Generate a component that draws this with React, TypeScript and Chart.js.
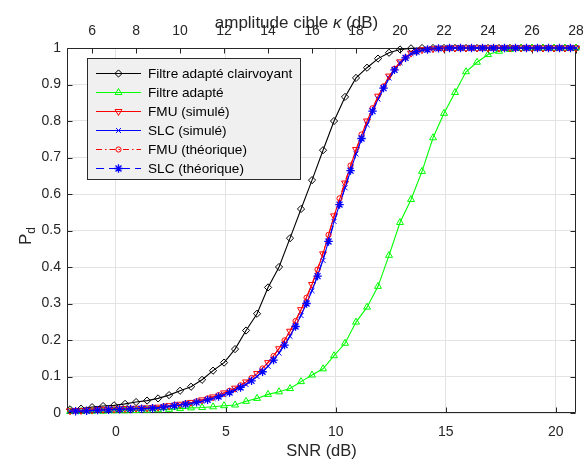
import React, { useEffect, useRef } from 'react';
import { Chart, registerables } from 'chart.js';
import { drawPoint } from 'chart.js/helpers';

Chart.register(...registerables);

// SNR (dB) of the simulated points (kappa = 5 : 0.5 : 28 dB)
const snrSim = [
  -2.08, -1.58, -1.08, -0.58, -0.08, 0.42, 0.92, 1.42, 1.92, 2.42, 2.92, 3.42, 3.92, 4.42, 4.92, 5.42,
  5.92, 6.42, 6.92, 7.42, 7.92, 8.42, 8.92, 9.42, 9.92, 10.42, 10.92, 11.42, 11.92, 12.42, 12.92, 13.42,
  13.92, 14.42, 14.92, 15.42, 15.92, 16.42, 16.92, 17.42, 17.92, 18.42, 18.92, 19.42, 19.92, 20.42, 20.92,
];
// SNR (dB) of the theoretical points
const snrTheo = [
  -1.83, -1.33, -0.83, -0.33, 0.17, 0.67, 1.17, 1.67, 2.17, 2.67, 3.17, 3.67, 4.17, 4.67, 5.17, 5.67,
  6.17, 6.67, 7.17, 7.67, 8.17, 8.67, 9.17, 9.67, 10.17, 10.67, 11.17, 11.67, 12.17, 12.67, 13.17, 13.67,
  14.17, 14.67, 15.17, 15.67, 16.17, 16.67, 17.17, 17.67, 18.17, 18.67, 19.17, 19.67, 20.17, 20.67,
];

const pdClairvoyant = [
  0.010, 0.012, 0.016, 0.019, 0.021, 0.025, 0.030, 0.034, 0.040, 0.049, 0.061, 0.072, 0.091, 0.116, 0.138, 0.175,
  0.226, 0.272, 0.344, 0.400, 0.479, 0.559, 0.638, 0.720, 0.800, 0.866, 0.918, 0.946, 0.971, 0.987, 0.996, 0.999,
  1, 1, 1, 1, 1, 1, 1, 1, 1, 1, 1, 1, 1, 1, 1,
];
const pdAdapte = [
  0.004, 0.004, 0.005, 0.005, 0.006, 0.006, 0.007, 0.008, 0.009, 0.010, 0.012, 0.014, 0.015, 0.017, 0.020, 0.022,
  0.032, 0.040, 0.051, 0.058, 0.067, 0.086, 0.104, 0.121, 0.157, 0.191, 0.249, 0.290, 0.347, 0.432, 0.522, 0.585,
  0.662, 0.754, 0.821, 0.878, 0.935, 0.961, 0.982, 0.991, 0.996, 0.999, 1, 1, 1, 1, 1,
];
const pdFmuSim = [
  0.006, 0.007, 0.008, 0.010, 0.011, 0.012, 0.013, 0.014, 0.016, 0.020, 0.024, 0.029, 0.036, 0.044, 0.055, 0.068,
  0.085, 0.108, 0.138, 0.176, 0.224, 0.283, 0.352, 0.436, 0.540, 0.630, 0.722, 0.800, 0.868, 0.923, 0.962, 0.986,
  0.995, 0.998, 0.999, 1, 1, 1, 1, 1, 1, 1, 1, 1, 1, 1, 1,
];
const pdSlcSim = [
  0.005, 0.006, 0.007, 0.009, 0.010, 0.011, 0.012, 0.013, 0.014, 0.018, 0.022, 0.026, 0.032, 0.040, 0.050, 0.063,
  0.078, 0.100, 0.128, 0.164, 0.210, 0.267, 0.335, 0.418, 0.525, 0.617, 0.710, 0.790, 0.860, 0.918, 0.960, 0.985,
  0.994, 0.998, 0.999, 1, 1, 1, 1, 1, 1, 1, 1, 1, 1, 1, 1,
];
const pdFmuTheo = [
  0.006, 0.007, 0.009, 0.010, 0.011, 0.012, 0.013, 0.015, 0.018, 0.022, 0.026, 0.032, 0.040, 0.049, 0.061, 0.076,
  0.096, 0.122, 0.156, 0.199, 0.252, 0.316, 0.393, 0.488, 0.588, 0.678, 0.763, 0.835, 0.895, 0.943, 0.974, 0.990,
  0.996, 0.999, 1, 1, 1, 1, 1, 1, 1, 1, 1, 1, 1, 1,
];
const pdSlcTheo = [
  0.005, 0.006, 0.008, 0.009, 0.010, 0.011, 0.012, 0.013, 0.016, 0.020, 0.024, 0.029, 0.036, 0.045, 0.056, 0.070,
  0.088, 0.113, 0.145, 0.186, 0.237, 0.300, 0.375, 0.470, 0.571, 0.664, 0.752, 0.827, 0.890, 0.940, 0.973, 0.990,
  0.996, 0.999, 1, 1, 1, 1, 1, 1, 1, 1, 1, 1, 1, 1,
];

const seriesLabels = [
  'Filtre adapté clairvoyant',
  'Filtre adapté',
  'FMU (simulé)',
  'SLC (simulé)',
  'FMU (théorique)',
  'SLC (théorique)',
];

const snrTicks = [0, 5, 10, 15, 20];
const kappaTicks = [6, 8, 10, 12, 14, 16, 18, 20, 22, 24, 26, 28];
const pdTicks = [0, 0.1, 0.2, 0.3, 0.4, 0.5, 0.6, 0.7, 0.8, 0.9, 1];
const tickLabelsPd = ['0', '0.1', '0.2', '0.3', '0.4', '0.5', '0.6', '0.7', '0.8', '0.9', '1'];

const SNR_MIN = -2.22;
const SNR_MAX = 20.92;
const KAPPA_OFFSET = 7.08;

const FONT = '"Liberation Sans", Arial, Helvetica, sans-serif';
const AXIS_COLOR = '#262626';

const pts = (xs: number[], ys: number[]) => xs.map((x, i) => ({ x, y: ys[i] }));

const noPad = (s: any) => {
  s.paddingLeft = 0;
  s.paddingRight = 0;
  s.paddingTop = 0;
  s.paddingBottom = 0;
};

const overlay = {
  id: 'overlay',
  beforeDatasetsDraw(chart: any) {
    const { ctx, chartArea: a, scales } = chart;
    ctx.save();
    ctx.strokeStyle = AXIS_COLOR;
    ctx.lineWidth = 1;
    ctx.setLineDash([]);
    const L = Math.round(a.left) + 0.5;
    const R = Math.round(a.right) - 0.5;
    const T = Math.round(a.top) + 0.5;
    const B = Math.round(a.bottom) - 0.5;
    ctx.beginPath();
    ctx.rect(L, T, R - L, B - T);
    ctx.stroke();
    const tl = 5;
    ctx.beginPath();
    snrTicks.forEach((v) => {
      const p = Math.round(scales.x.getPixelForValue(v)) + 0.5;
      ctx.moveTo(p, B);
      ctx.lineTo(p, B - tl);
    });
    kappaTicks.forEach((v) => {
      const p = Math.round(scales.xTop.getPixelForValue(v)) + 0.5;
      ctx.moveTo(p, T);
      ctx.lineTo(p, T + tl);
    });
    pdTicks.forEach((v) => {
      const p = Math.round(scales.y.getPixelForValue(v)) + 0.5;
      ctx.moveTo(L, p);
      ctx.lineTo(L + tl, p);
      ctx.moveTo(R, p);
      ctx.lineTo(R - tl, p);
    });
    ctx.stroke();
    ctx.restore();
  },
  afterDraw(chart: any) {
    const { ctx, chartArea: a } = chart;
    ctx.save();
    ctx.fillStyle = AXIS_COLOR;
    ctx.textBaseline = 'alphabetic';

    // top title with italic kappa
    const f = `17px ${FONT}`;
    const fi = `italic 17px ${FONT}`;
    const p1 = 'amplitude cible ';
    const p2 = 'κ';
    const p3 = ' (dB)';
    ctx.font = f;
    const w1 = ctx.measureText(p1).width;
    const w3 = ctx.measureText(p3).width;
    ctx.font = fi;
    const w2 = ctx.measureText(p2).width;
    const total = w1 + w2 + w3;
    let tx = 296.5 - total / 2;
    const ty = 28;
    ctx.textAlign = 'left';
    ctx.font = f;
    ctx.fillText(p1, tx, ty);
    tx += w1;
    ctx.font = fi;
    ctx.fillText(p2, tx, ty);
    tx += w2;
    ctx.font = f;
    ctx.fillText(p3, tx, ty);

    // bottom label
    ctx.textAlign = 'center';
    ctx.font = `16.5px ${FONT}`;
    ctx.fillText('SNR (dB)', (a.left + a.right) / 2, 456);

    // y label P_d
    ctx.save();
    ctx.translate(31, 236);
    ctx.rotate(-Math.PI / 2);
    ctx.textAlign = 'left';
    ctx.font = `17px ${FONT}`;
    const wp = ctx.measureText('P').width;
    ctx.font = `12px ${FONT}`;
    const wd = ctx.measureText('d').width;
    const sx = -(wp + wd) / 2;
    ctx.font = `17px ${FONT}`;
    ctx.fillText('P', sx, 0);
    ctx.font = `12px ${FONT}`;
    ctx.fillText('d', sx + wp, 4);
    ctx.restore();

    // legend
    const bx = 87.5, by = 58.5, bw = 213, bh = 121;
    ctx.fillStyle = '#f0f0f0';
    ctx.fillRect(bx, by, bw, bh);
    ctx.strokeStyle = '#2b2b2b';
    ctx.lineWidth = 1;
    ctx.setLineDash([]);
    ctx.strokeRect(bx, by, bw, bh);
    const metas = chart.data.datasets;
    seriesLabels.forEach((lab, i) => {
      const ds = metas[i];
      const y = Math.round(72.5 + i * 19.1) + 0.5;
      ctx.save();
      ctx.strokeStyle = ds.borderColor;
      ctx.lineWidth = 1.2;
      ctx.setLineDash(ds.borderDash || []);
      ctx.beginPath();
      ctx.moveTo(96, y);
      ctx.lineTo(141, y);
      ctx.stroke();
      ctx.setLineDash([]);
      ctx.fillStyle = 'rgba(0,0,0,0)';
      ctx.strokeStyle = ds.borderColor;
      ctx.lineWidth = ds.pointBorderWidth ?? 1;
      drawPoint(ctx, {
        pointStyle: ds.pointStyle,
        radius: ds.pointRadius,
        rotation: ds.pointRotation || 0,
        borderWidth: ds.pointBorderWidth ?? 1,
      } as any, 118.5, y);
      ctx.restore();
      ctx.fillStyle = '#000';
      ctx.textAlign = 'left';
      ctx.textBaseline = 'middle';
      ctx.font = `13.6px ${FONT}`;
      ctx.fillText(lab, 148, y + 0.5);
    });
    ctx.restore();
  },
};

export default function App() {
  const ref = useRef<HTMLCanvasElement | null>(null);
  useEffect(() => {
    document.body.style.margin = '0';
    const canvas = ref.current!;
    const common = {
      backgroundColor: 'rgba(0,0,0,0)',
      pointBackgroundColor: 'rgba(0,0,0,0)',
      borderWidth: 1.1,
      pointBorderWidth: 1,
      clip: false as any,
      xAxisID: 'x',
      yAxisID: 'y',
    };
    const chart = new Chart(canvas, {
      type: 'line',
      data: {
        datasets: [
          {
            ...common,
            label: seriesLabels[0],
            data: pts(snrSim, pdClairvoyant),
            borderColor: '#000000',
            pointBorderColor: '#000000',
            pointStyle: 'rectRot',
            pointRadius: 3.6,
            order: 6,
          },
          {
            ...common,
            label: seriesLabels[1],
            data: pts(snrSim, pdAdapte),
            borderColor: '#00ff00',
            pointBorderColor: '#00ff00',
            pointStyle: 'triangle',
            pointRadius: 4,
            order: 5,
          },
          {
            ...common,
            label: seriesLabels[2],
            data: pts(snrSim, pdFmuSim),
            borderColor: '#ff0000',
            pointBorderColor: '#ff0000',
            pointStyle: 'triangle',
            pointRotation: 180,
            pointRadius: 4,
            order: 4,
          },
          {
            ...common,
            label: seriesLabels[3],
            data: pts(snrSim, pdSlcSim),
            borderColor: '#0000ff',
            pointBorderColor: '#0000ff',
            pointStyle: 'crossRot',
            pointRadius: 3.5,
            order: 3,
          },
          {
            ...common,
            label: seriesLabels[4],
            data: pts(snrTheo, pdFmuTheo),
            borderColor: '#ff0000',
            pointBorderColor: '#ff0000',
            borderDash: [6, 3, 1.5, 3],
            pointStyle: 'circle',
            pointRadius: 2.6,
            order: 2,
          },
          {
            ...common,
            label: seriesLabels[5],
            data: pts(snrTheo, pdSlcTheo),
            borderColor: '#0000ff',
            pointBorderColor: '#0000ff',
            borderDash: [8, 5],
            pointStyle: 'star',
            pointRadius: 4.2,
            pointBorderWidth: 1.3,
            order: 1,
          },
        ] as any,
      },
      options: {
        responsive: false,
        animation: false,
        events: [],
        layout: { padding: { left: 0, right: 7, top: 0, bottom: 0 } },
        plugins: { legend: { display: false }, tooltip: { enabled: false }, title: { display: false } },
        elements: { line: { tension: 0 } },
        scales: {
          x: {
            type: 'linear',
            position: 'bottom',
            min: SNR_MIN,
            max: SNR_MAX,
            afterBuildTicks: (s: any) => { s.ticks = snrTicks.map((v) => ({ value: v })); },
            afterFit: (s: any) => { s.height = 46; noPad(s); },
            grid: { color: '#e3e3e3', lineWidth: 1, drawTicks: false },
            border: { display: false },
            ticks: {
              padding: 11,
              maxRotation: 0,
              color: AXIS_COLOR,
              font: { family: FONT, size: 14 },
              callback: (v: any) => String(v),
            },
          },
          xTop: {
            type: 'linear',
            position: 'top',
            min: SNR_MIN + KAPPA_OFFSET,
            max: SNR_MAX + KAPPA_OFFSET,
            afterBuildTicks: (s: any) => { s.ticks = kappaTicks.map((v) => ({ value: v })); },
            afterFit: (s: any) => { s.height = 48; noPad(s); },
            grid: { display: false, drawTicks: false },
            border: { display: false },
            ticks: {
              padding: 8,
              maxRotation: 0,
              color: AXIS_COLOR,
              font: { family: FONT, size: 14 },
              callback: (v: any) => String(v),
            },
          },
          y: {
            type: 'linear',
            position: 'left',
            min: 0,
            max: 1,
            afterBuildTicks: (s: any) => { s.ticks = pdTicks.map((v) => ({ value: v })); },
            afterFit: (s: any) => { s.width = 67; noPad(s); },
            grid: { color: '#e3e3e3', lineWidth: 1, drawTicks: false },
            border: { display: false },
            ticks: {
              padding: 6,
              color: AXIS_COLOR,
              font: { family: FONT, size: 14 },
              callback: (_v: any, i: number) => tickLabelsPd[i],
            },
          },
        },
      } as any,
      plugins: [overlay],
    });
    return () => chart.destroy();
  }, []);
  return <canvas ref={ref} width={583} height={459} style={{ display: 'block' }} />;
}
